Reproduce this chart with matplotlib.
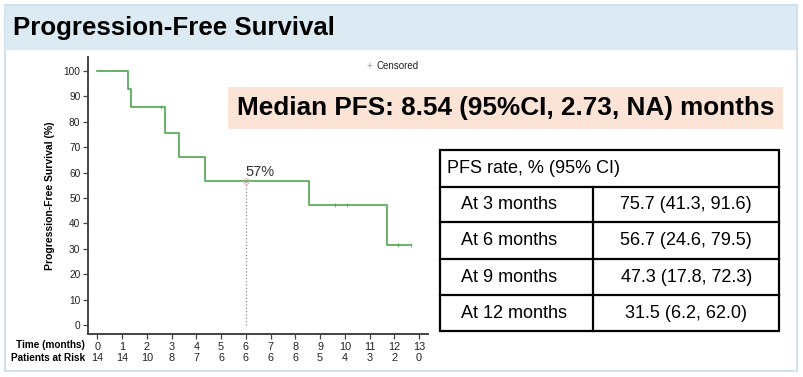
import matplotlib
matplotlib.use("Agg")
import matplotlib.pyplot as plt
from matplotlib.patches import Rectangle
import matplotlib.transforms as mtransforms

plt.rcParams['font.family'] = ['Liberation Sans', 'DejaVu Sans']

# ---- data ----
step_times = [0, 1.25, 1.36, 2.74, 3.31, 4.36, 8.54, 11.72, 12.66]
step_surv = [100, 92.9, 85.7, 75.7, 66.2, 56.7, 47.3, 31.5, 31.5]
censor_times = [2.56, 9.6, 10.1, 12.16, 12.66]
censor_surv = [85.7, 47.3, 47.3, 31.5, 31.5]
median_time = 6
median_label = "57%"
median_surv = 56.7
time_ticks = list(range(0, 14))
at_risk = [14, 14, 10, 8, 7, 6, 6, 6, 6, 5, 4, 3, 2, 0]
y_ticks = list(range(0, 101, 10))

table_header = "PFS rate, % (95% CI)"
table_rows = ["At 3 months", "At 6 months", "At 9 months", "At 12 months"]
table_vals = ["75.7 (41.3, 91.6)", "56.7 (24.6, 79.5)", "47.3 (17.8, 72.3)", "31.5 (6.2, 62.0)"]

title = "Progression-Free Survival"
median_text = "Median PFS: 8.54 (95%CI, 2.73, NA) months"

W, H = 804, 377
fig = plt.figure(figsize=(W / 100, H / 100), dpi=100)

def fx(x):
    return x / W

def fy(y):
    return 1 - y / H

def rect_px(x0, y0, x1, y1, z=-10, **kw):
    r = Rectangle((fx(x0), fy(y1)), fx(x1 - x0), (y1 - y0) / H,
                  transform=fig.transFigure, zorder=z, **kw)
    fig.add_artist(r)
    return r

# outer frame & title band
rect_px(5, 5, 797, 371, z=-10, facecolor='white', edgecolor='#c8dce8', linewidth=1.2)
rect_px(5.5, 5.5, 796.5, 50, z=-9, facecolor='#dceaf3', edgecolor='none')
fig.text(fx(13), fy(28), title, fontsize=18.6, fontweight='bold', va='center', ha='left')

# KM axes
ax_l, ax_r, ax_t, ax_b = 88, 428, 57, 334
ax = fig.add_axes([fx(ax_l), fy(ax_b), fx(ax_r - ax_l), (ax_b - ax_t) / H])
ax.patch.set_alpha(0)
ax.set_xlim(-0.376, 13.36)
ax.set_ylim(-3.5, 105.5)
green = '#4ea64e'
ax.step(step_times, step_surv, where='post', color=green, linewidth=1.2)
ax.plot(censor_times, censor_surv, linestyle='none', marker='|', color=green,
        markersize=3.5, markeredgewidth=0.7, alpha=0.8)
ax.plot([median_time, median_time], [0, median_surv], linestyle=':', color='#888888', linewidth=0.9)
ax.plot([median_time], [median_surv], marker='o', markersize=4, markerfacecolor='none',
        markeredgecolor='#e8a0a0', markeredgewidth=0.6)
ax.text(median_time, median_surv + 0.6, median_label, fontsize=10.5, ha='left', va='bottom', color='#333333')

for s in ['top', 'right']:
    ax.spines[s].set_visible(False)
for s in ['left', 'bottom']:
    ax.spines[s].set_color('#444444')
    ax.spines[s].set_linewidth(1.4)
ax.set_yticks(y_ticks)
ax.set_yticklabels([str(v) for v in y_ticks], fontsize=7.3, color='#222222')
ax.set_xticks(time_ticks)
ax.set_xticklabels([str(v) for v in time_ticks], fontsize=7.8, color='#222222')
ax.tick_params(axis='both', length=3.5, width=0.9, color='#444444', pad=2)
ax.set_ylabel("Progression-Free Survival (%)", fontsize=7.5, fontweight='bold', labelpad=6)

trans = mtransforms.blended_transform_factory(ax.transData, fig.transFigure)
for t, n in zip(time_ticks, at_risk):
    ax.text(t, fy(358), str(n), transform=trans, fontsize=7.8, ha='center', va='center', color='#222222')
fig.text(fx(85), fy(345), "Time (months)", fontsize=7.2, fontweight='bold', ha='right', va='center')
fig.text(fx(85), fy(358), "Patients at Risk", fontsize=7.2, fontweight='bold', ha='right', va='center')

# legend
fig.text(fx(369), fy(66), "+", fontsize=7, color='#999999', ha='center', va='center')
fig.text(fx(377), fy(66), "Censored", fontsize=7, color='#222222', ha='left', va='center')

# median box
rect_px(228, 87, 783, 129, z=-5, facecolor='#fbe3d5', edgecolor='none')
fig.text(fx(505.5), fy(108.5), median_text, fontsize=18.8, fontweight='bold', ha='center', va='center')

# table
tl, tm, tr = 439.5, 593.5, 779
row_edges = [150.5, 187.3, 222.3, 259, 295, 331]
lw = 1.6
rect_px(tl, row_edges[0], tr, row_edges[-1], z=2, facecolor='none', edgecolor='black', linewidth=lw)
for y in row_edges[1:-1]:
    fig.add_artist(plt.Line2D([fx(tl), fx(tr)], [fy(y), fy(y)], transform=fig.transFigure,
                              color='black', linewidth=lw))
fig.add_artist(plt.Line2D([fx(tm), fx(tm)], [fy(row_edges[1]), fy(row_edges[-1])],
                          transform=fig.transFigure, color='black', linewidth=lw))
fs = 13
fig.text(fx(447), fy((row_edges[0] + row_edges[1]) / 2), table_header, fontsize=fs,
         ha='left', va='center')
for i, (lab, val) in enumerate(zip(table_rows, table_vals)):
    yc = (row_edges[i + 1] + row_edges[i + 2]) / 2
    fig.text(fx(461), fy(yc), lab, fontsize=fs, ha='left', va='center')
    fig.text(fx((tm + tr) / 2), fy(yc), val, fontsize=fs, ha='center', va='center')

fig.savefig("out.png", dpi=100)
